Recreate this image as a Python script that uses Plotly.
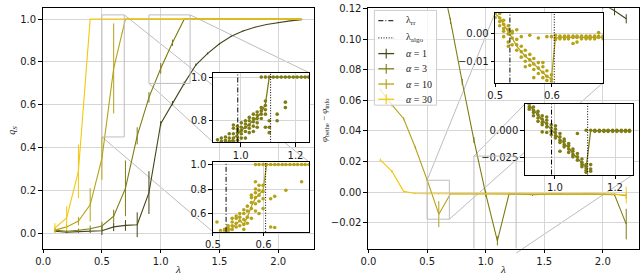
import plotly.graph_objects as go

# ---------------- data ----------------
lam = [0.1, 0.2, 0.3, 0.4, 0.5, 0.6, 0.7, 0.8, 0.9, 1.0, 1.1,
       1.2, 1.3, 1.4, 1.5, 1.6, 1.7, 1.8, 1.9, 2.0, 2.1, 2.2]

# left panel: q_S
qs_a1 = [0.010, 0.005, 0.008, 0.010, 0.012, 0.030, 0.037, 0.040, 0.190, 0.512, 0.608,
         0.700, 0.787, 0.840, 0.885, 0.920, 0.945, 0.962, 0.975, 0.985, 0.992, 0.997]
qs_a1_err = [0.005, 0.004, 0.005, 0.008, 0.020, 0.020, 0.025, 0.058, 0.100, 0.012, 0.010,
             0.008, 0.006, 0.005, 0.004, 0.003, 0.003, 0.002, 0.002, 0.002, 0.001, 0.001]
qs_a3 = [0.015, 0.010, 0.014, 0.021, 0.034, 0.080, 0.210, 0.455, 0.635, 0.770, 0.890,
         1.0, 1.0, 1.0, 1.0, 1.0, 1.0, 1.0, 1.0, 1.0, 1.0, 1.0]
qs_a3_err = [0.008, 0.005, 0.008, 0.015, 0.020, 0.030, 0.130, 0.040, 0.025, 0.025, 0.015,
             0.0, 0.0, 0.0, 0.0, 0.0, 0.0, 0.0, 0.0, 0.0, 0.0, 0.0]
qs_a10 = [0.015, 0.030, 0.057, 0.133, 0.350, 0.770, 1.0, 1.0, 1.0, 1.0, 1.0,
          1.0, 1.0, 1.0, 1.0, 1.0, 1.0, 1.0, 1.0, 1.0, 1.0, 1.0]
qs_a10_err = [0.010, 0.012, 0.020, 0.078, 0.100, 0.210, 0.0, 0.0, 0.0, 0.0, 0.0,
              0.0, 0.0, 0.0, 0.0, 0.0, 0.0, 0.0, 0.0, 0.0, 0.0, 0.0]
qs_a30 = [0.025, 0.072, 0.290, 1.0, 1.0, 1.0, 1.0, 1.0, 1.0, 1.0, 1.0,
          1.0, 1.0, 1.0, 1.0, 1.0, 1.0, 1.0, 1.0, 1.0, 1.0, 1.0]
qs_a30_err = [0.022, 0.055, 0.125, 0.0, 0.0, 0.0, 0.0, 0.0, 0.0, 0.0, 0.0,
              0.0, 0.0, 0.0, 0.0, 0.0, 0.0, 0.0, 0.0, 0.0, 0.0, 0.0]

# right panel: phi_bethe - phi_info
lam_phi_a1 = [2.0, 2.1, 2.2]
phi_a1 = [0.123, 0.1187, 0.1134]
phi_a1_err = [0.003, 0.003, 0.003]
lam_phi_a3 = [0.6, 0.7, 0.8, 0.9, 1.0, 1.1, 1.2, 1.3, 1.4, 1.5, 1.6, 1.7, 1.8, 1.9, 2.0, 2.1, 2.2]
phi_a3 = [0.148, 0.112, 0.072, 0.034, -0.001, -0.032, -0.0012, -0.0012, -0.0018, -0.0015,
          -0.0012, -0.0015, -0.0013, -0.0014, -0.0016, -0.0018, -0.021]
phi_a3_err = [0.002, 0.002, 0.002, 0.002, 0.002, 0.003, 0.0006, 0.0005, 0.0008, 0.0006,
              0.0005, 0.0006, 0.0005, 0.0005, 0.0006, 0.0008, 0.010]
phi_a10 = [0.067, 0.057, 0.048, 0.029, 0.008, -0.0145, -0.0012, -0.0011, -0.0012, -0.0013, -0.0012,
           -0.0014, -0.0013, -0.0012, -0.0013, -0.0012, -0.0014, -0.0013, -0.0012, -0.0013, -0.0015, -0.0025]
phi_a10_err = [0.001, 0.001, 0.001, 0.001, 0.001, 0.0085, 0.0005, 0.0004, 0.0005, 0.0005, 0.0004,
               0.0005, 0.0005, 0.0004, 0.0005, 0.0004, 0.0005, 0.0005, 0.0004, 0.0005, 0.0006, 0.002]
phi_a30 = [0.021, 0.0135, 0.0004, -0.0010, -0.0011, -0.0011, -0.0012, -0.0011, -0.0012, -0.0011, -0.0012,
           -0.0012, -0.0011, -0.0012, -0.0012, -0.0011, -0.0012, -0.0012, -0.0013, -0.0012, -0.0013, -0.0020]
phi_a30_err = [0.001, 0.001, 0.0008, 0.0004, 0.0004, 0.0004, 0.0004, 0.0004, 0.0004, 0.0004, 0.0004,
               0.0004, 0.0004, 0.0004, 0.0004, 0.0004, 0.0004, 0.0004, 0.0004, 0.0004, 0.0005, 0.0055]

# inset grids
grid3 = [0.915, 0.929, 0.944, 0.958, 0.973, 0.988, 1.002, 1.017, 1.031, 1.046, 1.060, 1.075,
         1.090, 1.104, 1.119, 1.133, 1.148, 1.163, 1.177, 1.192, 1.206, 1.221, 1.235, 1.248]
grid10 = [0.500, 0.508, 0.515, 0.523, 0.530, 0.538, 0.546, 0.553, 0.561, 0.568, 0.576, 0.584, 0.591,
          0.599, 0.606, 0.614, 0.622, 0.629, 0.637, 0.644, 0.652, 0.660, 0.667, 0.675, 0.682, 0.690]

# inset L1: q_S, alpha=3
l1_mean = [0.660, 0.670, 0.685, 0.698, 0.720, 0.738, 0.757, 0.768, 0.785, 0.800, 0.815, 0.838,
           0.875, 1.0, 1.0, 1.0, 1.0, 1.0, 1.0, 1.0, 1.0, 1.0, 1.0, 1.0]
l1_pts = [[0.712, 0.690], [0.705, 0.720, 0.680], [0.710, 0.725, 0.700], [0.705, 0.720, 0.740, 0.690],
          [0.720, 0.740, 0.765, 0.705, 0.780], [0.725, 0.745, 0.760, 0.710, 0.775],
          [0.740, 0.755, 0.770, 0.720, 0.790], [0.750, 0.770, 0.785, 0.720, 0.800],
          [0.765, 0.780, 0.800, 0.815, 0.745], [0.775, 0.795, 0.810, 0.830, 0.750],
          [0.790, 0.810, 0.825, 0.840, 0.770], [0.810, 0.830, 0.845, 0.860, 1.0],
          [0.830, 0.850, 0.870, 0.890, 0.770, 1.0], [0.800, 0.770, 0.745, 1.0], [1.0],
          [1.0, 0.830, 0.800], [1.0], [1.0, 0.885, 0.860], [1.0], [1.0], [1.0], [1.0], [1.0], [1.0]]

# inset L2: q_S, alpha=10
l2_mean = [0.410, 0.420, 0.430, 0.440, 0.456, 0.480, 0.515, 0.540, 0.512, 0.570, 0.660, 0.725, 0.755,
           0.792, 1.0, 1.0, 1.0, 1.0, 1.0, 1.0, 1.0, 1.0, 1.0, 1.0, 1.0, 1.0]
l2_pts = [[], [0.530], [0.460], [0.455, 0.470], [0.460, 0.480, 0.500], [0.470, 0.500, 0.530, 0.560],
          [0.490, 0.520, 0.560, 0.580], [0.500, 0.540, 0.570, 0.600], [0.470, 0.510, 0.550, 0.600, 0.630],
          [0.520, 0.570, 0.620, 0.660], [0.560, 0.640, 0.690, 0.730, 0.750],
          [0.620, 0.680, 0.730, 0.770, 0.800, 0.860, 1.0], [0.600, 0.700, 0.750, 0.790, 0.830, 1.0],
          [0.640, 0.720, 0.780, 0.830, 1.0], [1.0], [1.0, 0.490, 0.720], [1.0, 0.485, 0.740], [1.0], [1.0],
          [1.0, 0.790], [1.0], [1.0], [1.0], [1.0, 0.860], [1.0], [1.0]]

# inset RA: phi, alpha=10
ra_mean = [0.0074, 0.0060, 0.0035, 0.0010, -0.0015, -0.0045, -0.0065, -0.0082, -0.0095, -0.0110,
           -0.0125, -0.0142, -0.0155, -0.0165, -0.0015, -0.0012, -0.0011, -0.0013, -0.0012, -0.0011,
           -0.0013, -0.0012, -0.0011, -0.0012, -0.0013, -0.0012]
ra_pts = [[0.0077, 0.0060], [0.0075, 0.0058, 0.0045, 0.0030], [0.0050, 0.0035, 0.0020, -0.0010, 0.0010],
          [0.0030, 0.0015, 0.0, -0.0030, -0.0045], [0.0010, -0.0015, -0.0040, 0.0003],
          [-0.0020, -0.0040, -0.0060, 0.0015], [-0.0045, -0.0065, -0.0085, -0.0010],
          [-0.0060, -0.0080, -0.0100, -0.0120], [-0.0075, -0.0095, -0.0115, -0.0005],
          [-0.0090, -0.0110, -0.0130, -0.0160], [-0.0105, -0.0125, -0.0145, -0.0015],
          [-0.0120, -0.0140, -0.0160, -0.0105], [-0.0135, -0.0155, -0.0170, -0.0010],
          [-0.0150, -0.0165, -0.0175, -0.0010], [-0.0015, -0.0005, -0.0020],
          [-0.0008, -0.0013, -0.0018], [-0.0008, -0.0013, -0.0018], [-0.0008, -0.0013, -0.0018],
          [-0.0008, -0.0013, -0.0035], [-0.0008, -0.0013, -0.0030], [-0.0008, -0.0013, -0.0018],
          [-0.0008, -0.0013, -0.0018], [-0.0008, -0.0013, -0.0018], [-0.0008, -0.0013, -0.0018],
          [-0.0008, -0.0013, 0.0005], [-0.0008, -0.0013, -0.0018]]

# inset RB: phi, alpha=3
rb_mean = [0.0225, 0.0180, 0.0135, 0.0095, 0.0050, 0.0010, -0.0035, -0.0080, -0.0120, -0.0160,
           -0.0210, -0.0250, -0.0295, -0.0340, -0.0003, -0.0004, -0.0004, -0.0004, -0.0004, -0.0004,
           -0.0004, -0.0004, -0.0004, -0.0004]
rb_pts = [[0.0235, 0.021, 0.019], [0.021, 0.018, 0.016, 0.013], [0.017, 0.014, 0.011, 0.008],
          [0.013, 0.010, 0.007, -0.0015, 0.005], [0.009, 0.006, 0.003, 0.012, -0.002],
          [0.005, 0.002, -0.001, -0.004], [0.001, -0.002, -0.005, -0.007, 0.004],
          [-0.003, -0.006, -0.009, -0.019, -0.011], [-0.008, -0.010, -0.013, -0.015],
          [-0.012, -0.014, -0.017, -0.020], [-0.017, -0.019, -0.022, -0.024],
          [-0.021, -0.024, -0.027, -0.003], [-0.026, -0.029, -0.031, -0.033],
          [-0.031, -0.034, -0.036, -0.038, 0.0], [-0.031, -0.035, -0.037, 0.0],
          [0.0, -0.0005, -0.001], [0.0, -0.0005, -0.001], [0.0, -0.0005, -0.001], [0.0, -0.0005, -0.001],
          [0.0, -0.0005, -0.001], [0.0, -0.0005, -0.001], [0.0, -0.0005, -0.001], [0.0, -0.0005, -0.001],
          [0.0, -0.0005, -0.001]]

lam_rr_a3, lam_algo_a3 = 0.989, 1.109
lam_rr_a10, lam_algo_a10 = 0.526, 0.604

# ---------------- style ----------------
W, H = 640, 277
C1, C3, C10, C30 = "#46461a", "#7f7c14", "#b5a217", "#f2c80f"
GRAY = "#bdbdbd"
FONT = dict(family="DejaVu Sans", size=10, color="#1a1a1a")
SERIF = "Liberation Serif"
DASHDOT = "5px,2px,1px,2px"
DOTTED = "1px,1.6px"


def dx(a, b):
    return [a / W, b / W]


def dy(top, bot):
    return [1 - bot / H, 1 - top / H]


def ax(domain, rng, anchor, **kw):
    d = dict(domain=domain, range=rng, anchor=anchor, showline=True, mirror=True,
             linecolor="black", linewidth=1, ticks="outside", ticklen=3.5, tickwidth=1,
             tickcolor="black", showgrid=True, gridcolor="#d6d6d6", gridwidth=0.8,
             zeroline=False, tickfont=FONT)
    d.update(kw)
    return d


main_y_dom = dy(3.3, 248)
axes = {
    "xaxis": ax(dx(35, 310), [-0.005, 2.305], "y", tickvals=[0, 0.5, 1.0, 1.5, 2.0], tickformat=".1f"),
    "yaxis": ax(main_y_dom, [-0.071, 1.051], "x", tickvals=[0, 0.2, 0.4, 0.6, 0.8, 1.0], tickformat=".1f"),
    "xaxis2": ax(dx(364.5, 638.5), [-0.005, 2.305], "y2", tickvals=[0, 0.5, 1.0, 1.5, 2.0], tickformat=".1f"),
    "yaxis2": ax(main_y_dom, [-0.037, 0.1203], "x2",
                 tickvals=[-0.02, 0.0, 0.02, 0.04, 0.06, 0.08, 0.10, 0.12], tickformat=".2f"),
    "xaxis3": ax(dx(208, 305), [0.9, 1.25], "y3", tickvals=[1.0, 1.2], tickformat=".1f"),
    "yaxis3": ax(dy(69, 140), [0.7, 1.02], "x3", tickvals=[0.8, 1.0], tickformat=".1f"),
    "xaxis4": ax(dx(207.5, 305), [0.5, 0.69], "y4", tickvals=[0.5, 0.6], tickformat=".1f"),
    "yaxis4": ax(dy(160, 231), [0.45, 1.02], "x4", tickvals=[0.6, 0.8, 1.0], tickformat=".1f"),
    "xaxis5": ax(dx(493.3, 602.7), [0.5, 0.69], "y5", tickvals=[0.5, 0.6], tickformat=".1f"),
    "yaxis5": ax(dy(8, 79), [-0.0178, 0.0077], "x5", tickvals=[-0.01, 0.0], tickformat=".2f"),
    "xaxis6": ax(dx(523.3, 633), [0.9, 1.26], "y6", tickvals=[1.0, 1.2], tickformat=".1f"),
    "yaxis6": ax(dy(101, 172.7), [-0.04, 0.0235], "x6", tickvals=[-0.025, 0.0], tickformat=".3f"),
}

fig = go.Figure()


def curve(x, y, err, color, xa, ya):
    fig.add_trace(go.Scatter(
        x=x, y=y, mode="lines", line=dict(color=color, width=1.1),
        error_y=dict(type="data", array=err, color=color, thickness=1, width=0, visible=True),
        xaxis=xa, yaxis=ya, showlegend=False, hoverinfo="skip"))


curve(lam, qs_a1, qs_a1_err, C1, "x", "y")
curve(lam, qs_a3, qs_a3_err, C3, "x", "y")
curve(lam, qs_a10, qs_a10_err, C10, "x", "y")
curve(lam, qs_a30, qs_a30_err, C30, "x", "y")

curve(lam_phi_a1, phi_a1, phi_a1_err, C1, "x2", "y2")
curve(lam_phi_a3, phi_a3, phi_a3_err, C3, "x2", "y2")
curve(lam, phi_a10, phi_a10_err, C10, "x2", "y2")
curve(lam, phi_a30, phi_a30_err, C30, "x2", "y2")


def inset(grid, mean, pts, color, xa, ya):
    sx, sy = [], []
    for g, ys in zip(grid, pts):
        for v in ys:
            sx.append(g)
            sy.append(v)
    fig.add_trace(go.Scatter(x=sx, y=sy, mode="markers", marker=dict(color=color, size=3.6),
                             xaxis=xa, yaxis=ya, showlegend=False, hoverinfo="skip"))
    fig.add_trace(go.Scatter(x=grid, y=mean, mode="lines", line=dict(color=color, width=1.3),
                             xaxis=xa, yaxis=ya, showlegend=False, hoverinfo="skip"))


inset(grid3, l1_mean, l1_pts, C3, "x3", "y3")
inset(grid10, l2_mean, l2_pts, C10, "x4", "y4")
inset(grid10, ra_mean, ra_pts, C10, "x5", "y5")
inset(grid3, rb_mean, rb_pts, C3, "x6", "y6")

shapes = []
for xa, ya, rr, al in [("x3", "y3", lam_rr_a3, lam_algo_a3), ("x4", "y4", lam_rr_a10, lam_algo_a10),
                       ("x5", "y5", lam_rr_a10, lam_algo_a10), ("x6", "y6", lam_rr_a3, lam_algo_a3)]:
    shapes.append(dict(type="line", xref=xa, yref=ya + " domain", x0=rr, x1=rr, y0=0, y1=1,
                       line=dict(color="black", width=1, dash=DASHDOT), layer="above"))
    shapes.append(dict(type="line", xref=xa, yref=ya + " domain", x0=al, x1=al, y0=0, y1=1,
                       line=dict(color="black", width=1, dash=DOTTED), layer="above"))


def to_paper(xv, yv, xa, ya):
    X, Y = axes[xa], axes[ya]
    px = X["domain"][0] + (xv - X["range"][0]) / (X["range"][1] - X["range"][0]) * (X["domain"][1] - X["domain"][0])
    py = Y["domain"][0] + (yv - Y["range"][0]) / (Y["range"][1] - Y["range"][0]) * (Y["domain"][1] - Y["domain"][0])
    return px, py


# zoom rectangles + connectors
zooms = [
    ("xaxis", "yaxis", "xaxis3", "yaxis3", "x", "y", [(1, 1), (0, 0)]),
    ("xaxis", "yaxis", "xaxis4", "yaxis4", "x", "y", [(1, 1), (0, 0)]),
    ("xaxis2", "yaxis2", "xaxis5", "yaxis5", "x2", "y2", [(0, 1), (1, 0)]),
    ("xaxis2", "yaxis2", "xaxis6", "yaxis6", "x2", "y2", [(0, 1), (1, 0)]),
]
for mx, my, ix, iy, xr, yr, corners in zooms:
    rx, ry = axes[ix]["range"], axes[iy]["range"]
    shapes.append(dict(type="rect", xref=xr, yref=yr, x0=rx[0], x1=rx[1], y0=ry[0], y1=ry[1],
                       line=dict(color=GRAY, width=1), layer="above"))
    for cx, cy in corners:
        p0 = to_paper(rx[cx], ry[cy], mx, my)
        p1 = (axes[ix]["domain"][cx], axes[iy]["domain"][cy])
        shapes.append(dict(type="line", xref="paper", yref="paper", x0=p0[0], y0=p0[1],
                           x1=p1[0], y1=p1[1], line=dict(color=GRAY, width=1), layer="below"))


# legend (drawn manually to match matplotlib layout)
def P(px, py):
    return px / W, 1 - py / H


lx0, ly0 = P(371, 5.5)
lx1, ly1 = P(434, 102)
shapes.append(dict(type="rect", xref="paper", yref="paper", x0=lx0, x1=lx1, y0=ly1, y1=ly0,
                   fillcolor="rgba(255,255,255,0.8)", line=dict(color="#cccccc", width=1), layer="above"))
annotations = []
leg_rows = [("λ<sub>rr</sub>", "black", DASHDOT, False, 16),
            ("λ<sub>algo</sub>", "black", DOTTED, False, 33.5),
            ("<i>α</i> = 1", C1, "solid", True, 49.5),
            ("<i>α</i> = 3", C3, "solid", True, 65),
            ("<i>α</i> = 10", C10, "solid", True, 80.5),
            ("<i>α</i> = 30", C30, "solid", True, 96)]
for text, col, dash, eb, yy in leg_rows:
    a, b = P(375, yy)
    c, _ = P(391, yy)
    shapes.append(dict(type="line", xref="paper", yref="paper", x0=a, x1=c, y0=b, y1=b,
                       line=dict(color=col, width=1.3 if eb else 1, dash=dash), layer="above"))
    if eb:
        m, t = P(383, yy - 5)
        _, bt = P(383, yy + 5)
        shapes.append(dict(type="line", xref="paper", yref="paper", x0=m, x1=m, y0=bt, y1=t,
                           line=dict(color=col, width=1.1), layer="above"))
    tx, ty = P(401, yy)
    annotations.append(dict(text=text, x=tx, y=ty, xref="paper", yref="paper", xanchor="left",
                            yanchor="middle", showarrow=False,
                            font=dict(family=SERIF, size=10, color="#1a1a1a")))

# axis titles
for xd in ["x domain", "x2 domain"]:
    annotations.append(dict(text="<i>λ</i>", xref=xd, yref="paper", x=0.5, y=1 - 269 / H,
                            showarrow=False, yanchor="middle",
                            font=dict(family=SERIF, size=11, color="#1a1a1a")))
annotations.append(dict(text="<i>q</i><sub><i>S</i></sub>", xref="paper", yref="paper", x=5 / W, y=1 - 127 / H,
                        showarrow=False, textangle=-90, xanchor="center", yanchor="middle",
                        font=dict(family=SERIF, size=10, color="#1a1a1a")))
annotations.append(dict(text="<i>φ</i><sub>bethe</sub> − <i>φ</i><sub>info</sub>", xref="paper", yref="paper",
                        x=321 / W, y=1 - 117 / H, showarrow=False, textangle=-90,
                        xanchor="center", yanchor="middle",
                        font=dict(family=SERIF, size=9, color="#1a1a1a")))

fig.update_layout(width=W, height=H, autosize=False, margin=dict(l=0, r=0, t=0, b=0),
                  paper_bgcolor="white", plot_bgcolor="white", showlegend=False,
                  shapes=shapes, annotations=annotations, **axes)

fig.write_html("out.html", config={"displayModeBar": False},
               post_script="document.body.style.margin='0';document.body.style.overflow='hidden';")
